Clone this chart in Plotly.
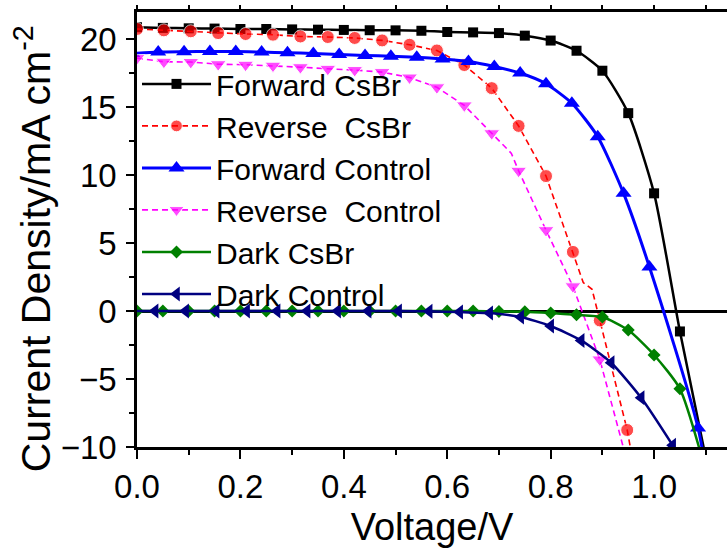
import plotly.graph_objects as go

# ---------------- data ----------------
fwd_csbr_v = [0.00, 0.05, 0.10, 0.15, 0.20, 0.25, 0.30, 0.35, 0.40, 0.45, 0.50, 0.55,
              0.60, 0.65, 0.70, 0.75, 0.80, 0.85, 0.90, 0.95, 1.00, 1.05, 1.10]
fwd_csbr_j = [20.88, 20.83, 20.80, 20.78, 20.75, 20.75, 20.72, 20.70, 20.68, 20.66, 20.65, 20.62,
              20.53, 20.50, 20.45, 20.26, 19.90, 19.15, 17.68, 14.56, 8.66, -1.50, -10.8]

rev_v = [0.000, 0.052, 0.104, 0.157, 0.210, 0.263, 0.316, 0.369, 0.421, 0.474, 0.527,
         0.580, 0.633, 0.686, 0.738, 0.791, 0.843, 0.895, 0.948, 1.000]
rev_csbr_j = [20.75, 20.65, 20.58, 20.45, 20.38, 20.33, 20.20, 20.16, 20.09, 19.91, 19.59,
              19.17, 18.10, 16.40, 13.62, 9.93, 4.35, -0.69, -8.75, -19.6]
rev_csbr_kink_v = [0.863, 0.880]
rev_csbr_kink_j = [2.10, 1.60]

rev_ctrl_v = [0.000, 0.052, 0.104, 0.157, 0.210, 0.263, 0.316, 0.369, 0.421, 0.474, 0.527,
              0.580, 0.633, 0.686, 0.738, 0.791, 0.843, 0.895, 0.948]
rev_ctrl_j = [18.61, 18.34, 18.32, 18.16, 18.12, 18.05, 17.94, 17.82, 17.73, 17.58, 17.18,
              16.46, 15.13, 13.08, 10.32, 5.95, 1.82, -3.56, -11.1]
rev_ctrl_kink_v = [0.724]
rev_ctrl_kink_j = [11.60]

fwd_ctrl_v = [-0.009, 0.041, 0.091, 0.141, 0.191, 0.241, 0.291, 0.341, 0.391, 0.441, 0.491,
              0.541, 0.591, 0.641, 0.691, 0.741, 0.791, 0.841, 0.891, 0.941, 0.991, 1.085, 1.135]
fwd_ctrl_j = [18.95, 19.05, 19.08, 19.10, 19.10, 19.05, 19.00, 18.95, 18.88, 18.80, 18.75,
              18.67, 18.54, 18.36, 17.99, 17.51, 16.72, 15.29, 12.83, 8.66, 3.24, -8.60, -20.3]

dark_csbr_v = [0.00, 0.05, 0.10, 0.15, 0.20, 0.25, 0.30, 0.35, 0.40, 0.45, 0.50, 0.55,
               0.60, 0.65, 0.70, 0.75, 0.80, 0.85, 0.90, 0.95, 1.00, 1.05, 1.10]
dark_csbr_j = [0.0, 0.0, 0.0, 0.0, 0.0, 0.0, 0.0, 0.0, 0.0, 0.0, 0.0, 0.0,
               0.0, 0.0, -0.03, -0.05, -0.15, -0.28, -0.44, -1.40, -3.23, -5.72, -11.8]

dark_ctrl_v = [-0.024, 0.035, 0.094, 0.153, 0.212, 0.271, 0.329, 0.388, 0.447, 0.506, 0.565,
               0.624, 0.682, 0.742, 0.800, 0.859, 0.917, 0.975, 1.036, 1.095]
dark_ctrl_j = [0.0, 0.0, 0.0, 0.0, 0.0, 0.0, 0.0, 0.0, 0.0, 0.0, -0.02,
               -0.07, -0.15, -0.44, -1.10, -2.16, -3.80, -6.38, -9.88, -13.5]

names = ["Forward CsBr", "Reverse  CsBr", "Forward Control", "Reverse  Control",
         "Dark CsBr", "Dark Control"]

x_title = "Voltage/V"
y_title = "Current Density/mA cm<sup>-2</sup>"

x_range = [0, 1.141]
y_range = [-10, 22]


def merge(v, j, kv, kj, size):
    pts = [(a, b, size) for a, b in zip(v, j)] + [(a, b, 0) for a, b in zip(kv, kj)]
    pts.sort(key=lambda p: p[0])
    return [p[0] for p in pts], [p[1] for p in pts], [p[2] for p in pts]


FONT = "Arial, Liberation Sans, sans-serif"
fig = go.Figure()

fig.add_trace(go.Scatter(x=fwd_csbr_v, y=fwd_csbr_j, name=names[0], mode="lines+markers",
                         line=dict(color="#000000", width=2.5, shape="spline", smoothing=0.6),
                         marker=dict(symbol="square", size=10, color="#000000")))

rx, ry, rs = merge(rev_v, rev_csbr_j, rev_csbr_kink_v, rev_csbr_kink_j, 13)
fig.add_trace(go.Scatter(x=rx, y=ry, name=names[1], mode="lines+markers",
                         line=dict(color="#FF0000", width=1.6, dash="6px,4px"),
                         marker=dict(symbol="circle", size=rs, color="#FF0000")))

fig.add_trace(go.Scatter(x=fwd_ctrl_v, y=fwd_ctrl_j, name=names[2], mode="lines+markers",
                         line=dict(color="#0000FF", width=3, shape="spline", smoothing=0.6),
                         marker=dict(symbol="triangle-up", size=14, color="#0000FF")))

mx, my, ms = merge(rev_ctrl_v, rev_ctrl_j, rev_ctrl_kink_v, rev_ctrl_kink_j, 14)
fig.add_trace(go.Scatter(x=mx, y=my, name=names[3], mode="lines+markers",
                         line=dict(color="#FF00FF", width=1.6, dash="6px,4px"),
                         marker=dict(symbol="triangle-down", size=ms, color="#FF00FF")))

fig.add_trace(go.Scatter(x=dark_csbr_v, y=dark_csbr_j, name=names[4], mode="lines+markers",
                         line=dict(color="#008000", width=2.5, shape="spline", smoothing=0.6),
                         marker=dict(symbol="diamond", size=10, color="#008000")))

fig.add_trace(go.Scatter(x=dark_ctrl_v, y=dark_ctrl_j, name=names[5], mode="lines+markers",
                         line=dict(color="#000080", width=2.5, shape="spline", smoothing=0.6),
                         marker=dict(symbol="triangle-left", size=13, color="#000080")))

# helper trace so the top axis is drawn
fig.add_trace(go.Scatter(x=[x_range[0]], y=[None], xaxis="x2", showlegend=False,
                         hoverinfo="skip", mode="lines"))

fig.update_layout(
    width=727, height=554,
    margin=dict(l=137, r=0, t=12, b=107),
    paper_bgcolor="white", plot_bgcolor="white",
    font=dict(family=FONT, color="black", size=30),
    showlegend=True,
    legend=dict(x=0.0, y=0.8945, xanchor="left", yanchor="top",
                bgcolor="rgba(0,0,0,0)", borderwidth=0, itemwidth=69,
                font=dict(family=FONT, size=30, color="black"),
                tracegroupgap=0, itemsizing="trace"),
    xaxis=dict(range=x_range, showgrid=False, zeroline=False,
               showline=True, linecolor="black", linewidth=2.5,
               ticks="outside", ticklen=9, tickwidth=2, tickcolor="black",
               tickmode="linear", tick0=0, dtick=0.2, tickformat=".1f",
               minor=dict(dtick=0.1, ticks="outside", ticklen=5, tickwidth=2, tickcolor="black"),
               tickfont=dict(family=FONT, size=33, color="black"),
               title=dict(text=x_title, font=dict(family=FONT, size=38, color="black"),
                          standoff=10)),
    xaxis2=dict(range=x_range, overlaying="x", side="top", anchor="y",
                showgrid=False, zeroline=False, showline=True, linecolor="black", linewidth=2.5,
                ticks="outside", ticklen=4, tickwidth=2, tickcolor="black",
                tickmode="linear", tick0=0, dtick=0.1, showticklabels=False),
    yaxis=dict(range=y_range, showgrid=False,
               zeroline=True, zerolinecolor="black", zerolinewidth=2.5,
               showline=True, linecolor="black", linewidth=2.5,
               ticks="outside", ticklen=8, tickwidth=2, tickcolor="black",
               tickmode="linear", tick0=-10, dtick=5, ticklabelstandoff=3,
               minor=dict(dtick=2.5, ticks="outside", ticklen=5, tickwidth=2, tickcolor="black"),
               tickfont=dict(family=FONT, size=33, color="black")),
    annotations=[dict(text=y_title, textangle=-90, xref="paper", yref="paper",
                      x=-0.176, y=0.455, xanchor="center", yanchor="middle", showarrow=False,
                      font=dict(family=FONT, size=41, color="black"))],
)

fig.write_html("out.html")
